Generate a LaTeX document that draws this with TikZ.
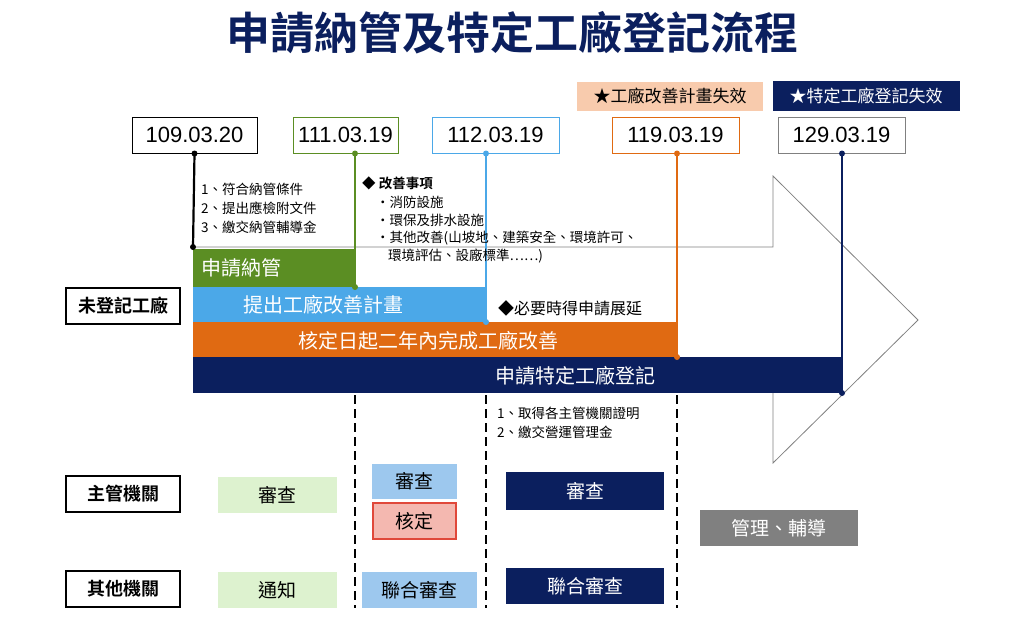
\documentclass[tikz,border=0pt]{standalone}
\usepackage{fontspec}
\setmainfont{Noto Sans CJK TC}
\newfontfamily\cjkb{Noto Sans CJK TC Bold}
\newfontfamily\numf{Liberation Sans}
\definecolor{navy}{HTML}{0B1F5E}
\definecolor{gr}{HTML}{5B8E23}
\definecolor{bl}{HTML}{4BA8E8}
\definecolor{orn}{HTML}{E06A12}
\definecolor{peach}{HTML}{F8CBAD}
\definecolor{lgreen}{HTML}{DDF2CF}
\definecolor{lblue}{HTML}{9DC8EE}
\definecolor{pink}{HTML}{F4B8B0}
\definecolor{redb}{HTML}{E0483A}
\begin{document}
\begin{tikzpicture}[x=1pt,y=-1pt,
  datebox/.style={draw,line width=1pt,fill=white,minimum height=36pt,font=\numf\fontsize{22}{22}\selectfont,inner sep=0pt},
  bar/.style={anchor=north west,inner sep=0pt,text=white,font=\fontsize{20}{20}\selectfont},
  btxt/.style={text=white,font=\fontsize{20}{20}\selectfont},
  lbl/.style={draw,line width=2.2pt,minimum width=114pt,minimum height=36pt,font=\cjkb\fontsize{18}{18}\selectfont},
  sbox/.style={inner sep=0pt,font=\fontsize{19}{19}\selectfont},
  small/.style={anchor=west,inner sep=0pt,font=\fontsize{13.5}{13.5}\selectfont},
  dot/.style={circle,fill,inner sep=0pt,minimum size=6pt},
  vl/.style={line width=2.2pt},
  dl/.style={line width=2.4pt,dash pattern=on 9pt off 5pt}]
\useasboundingbox (0,0) rectangle (1023,622);
% title
\node[font=\cjkb\fontsize{44}{44}\selectfont,text=navy] (title) at (512,33) {申請納管及特定工廠登記流程};
% big arrow outline
\draw[gray,line width=0.8pt] (193,247) -- (773,247) -- (773,176) -- (918,320) -- (773,463) -- (773,393);
% top labels
\node[fill=peach,minimum width=186pt,minimum height=29pt,inner sep=0pt,font=\fontsize{17}{17}\selectfont] (f1) at (670,96) {★工廠改善計畫失效};
\node[fill=navy,text=white,minimum width=187pt,minimum height=30pt,inner sep=0pt,font=\fontsize{17}{17}\selectfont] (f2) at (866,96) {★特定工廠登記失效};
% dates
\node[datebox,draw=black,minimum width=125pt] (d1) at (194.5,135) {109.03.20};
\node[datebox,draw=gr,minimum width=105pt] (d2) at (345.5,135) {111.03.19};
\node[datebox,draw=bl,minimum width=127pt] (d3) at (495.5,135) {112.03.19};
\node[datebox,draw=orn,minimum width=127pt] (d4) at (675.5,135) {119.03.19};
\node[datebox,draw=gray,minimum width=127pt] (d5) at (841.5,135) {129.03.19};
% bars
\node[bar,fill=navy,minimum width=649pt,minimum height=36pt] (b4) at (193,357) {};
\node[btxt] at (575,376) {申請特定工廠登記};
\node[bar,fill=orn,minimum width=484pt,minimum height=35pt] (b3) at (193,322) {};
\node[btxt] at (428,341) {核定日起二年內完成工廠改善};
\node[bar,fill=bl,minimum width=293pt,minimum height=35pt] (b2) at (193,287) {};
\node[btxt] at (323,305) {提出工廠改善計畫};
\node[bar,fill=gr,minimum width=162pt,minimum height=38pt] (b1) at (193,249) {};
\node[btxt,anchor=west] at (198,268) {申請納管};
% vertical lines
\coordinate (e1) at (193,247); \coordinate (e2) at (355,287);
\coordinate (e3) at (486,322); \coordinate (e4) at (677,357); \coordinate (e5) at (842,393);
\draw[vl,black] (d1.south) -- (e1); \node[dot,black] at (d1.south) {}; \node[dot,black] at (e1) {};
\draw[vl,gr] (d2.south-|e2) -- (e2); \node[dot,gr] at (d2.south-|e2) {}; \node[dot,gr] at (e2) {};
\draw[vl,bl] (d3.south-|e3) -- (e3); \node[dot,bl] at (d3.south-|e3) {}; \node[dot,bl] at (e3) {};
\draw[vl,orn] (d4.south-|e4) -- (e4); \node[dot,orn] at (d4.south-|e4) {}; \node[dot,orn] at (e4) {};
\draw[vl,navy] (d5.south-|e5) -- (e5); \node[dot,navy] at (d5.south-|e5) {}; \node[dot,navy] at (e5) {};
% texts
\node[small] at (201,189) {1、符合納管條件};
\node[small] at (201,208) {2、提出應檢附文件};
\node[small] at (201,227) {3、繳交納管輔導金};
\node[small,font=\cjkb\fontsize{13.5}{13.5}\selectfont] at (362,183) {◆ 改善事項};
\node[small] at (376,202) {・消防設施};
\node[small] at (376,220) {・環保及排水設施};
\node[small] at (376,238) {・其他改善(山坡地、建築安全、環境許可、};
\node[small] at (388,256) {環境評估、設廠標準……)};
\node[small,font=\fontsize{16}{16}\selectfont] at (498,308) {◆必要時得申請展延};
\node[small] at (497,413) {1、取得各主管機關證明};
\node[small] at (497,432) {2、繳交營運管理金};
% left labels
\node[lbl] (l1) at (123,306) {未登記工廠};
\node[lbl] (l2) at (123,494) {主管機關};
\node[lbl] (l3) at (123,589) {其他機關};
% dashed lines
\coordinate (t1) at (355,395); \coordinate (t2) at (486,395); \coordinate (t3) at (677,395);
\draw[dl] (t1) -- (355,608);
\draw[dl] (t2) -- (486,608);
\draw[dl] (t3) -- (677,608);
% lower boxes
\node[sbox,fill=lgreen,minimum width=119pt,minimum height=36pt] (s1) at (277.5,495) {審查};
\node[sbox,fill=lgreen,minimum width=119pt,minimum height=36pt] (s2) at (277.5,590) {通知};
\node[sbox,fill=lblue,minimum width=85pt,minimum height=35pt] (s3) at (414.5,481) {審查};
\node[sbox,fill=pink,draw=redb,line width=2pt,minimum width=83pt,minimum height=36pt] (s4) at (414.5,521) {核定};
\node[sbox,fill=lblue,minimum width=115pt,minimum height=36pt] (s5) at (419.5,590) {聯合審查};
\node[sbox,fill=navy,text=white,minimum width=158pt,minimum height=38pt] (s6) at (585,491) {審查};
\node[sbox,fill=navy,text=white,minimum width=158pt,minimum height=36pt] (s7) at (585,586) {聯合審查};
\node[sbox,fill=gray,text=white,minimum width=158pt,minimum height=36pt] (s8) at (779,528) {管理、輔導};
\end{tikzpicture}
\end{document}
